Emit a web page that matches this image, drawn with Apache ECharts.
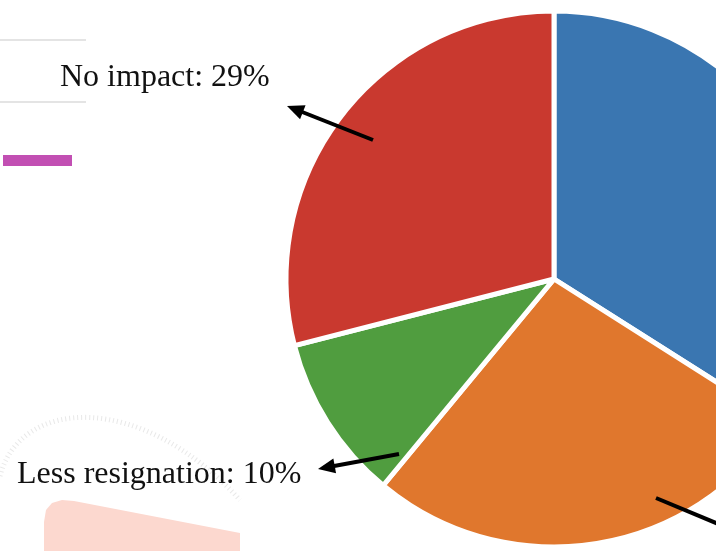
<!DOCTYPE html>
<html>
<head>
<meta charset="utf-8">
<style>
  html, body { margin: 0; padding: 0; background: #ffffff; }
  #chart { width: 716px; height: 551px; }
</style>
<script src="https://cdn.jsdelivr.net/npm/echarts@6/dist/echarts.min.js"></script>
</head>
<body>
<div id="chart"></div>
<script>
// Share of respondents by effect on resignation (percent), clockwise from 12 o'clock
const categories = ['More resignation', 'Slightly more resignation', 'Less resignation', 'No impact'];
const shares = [34, 27, 10, 29];
const sliceColors = ['#3a76b1', '#e0772d', '#509d3f', '#c9392f'];

// Slices that carry a visible callout text
const calloutSlices = [3, 2];

const chart = echarts.init(document.getElementById('chart'), null, { renderer: 'canvas' });

const serifFont = '"Liberation Serif", "Times New Roman", serif';

function calloutText(i) {
  return categories[i] + ': ' + shares[i] + '%';
}

// Straight arrow with a filled triangular head at (x2, y2)
function arrow(x1, y1, x2, y2, withHead) {
  const dx = x2 - x1, dy = y2 - y1;
  const len = Math.sqrt(dx * dx + dy * dy);
  const ux = dx / len, uy = dy / len;
  const headLen = 17, headHalf = 7.5;
  const bx = x2 - ux * headLen, by = y2 - uy * headLen;
  const parts = [{
    type: 'line',
    shape: { x1: x1, y1: y1, x2: withHead ? bx + ux * 2 : x2, y2: withHead ? by + uy * 2 : y2 },
    style: { stroke: '#000', lineWidth: 4 },
    z: 10
  }];
  if (withHead) {
    parts.push({
      type: 'polygon',
      shape: { points: [[x2, y2], [bx - uy * headHalf, by + ux * headHalf], [bx + uy * headHalf, by - ux * headHalf]] },
      style: { fill: '#000' },
      z: 10
    });
  }
  return parts;
}

const graphics = [
  // faded legend remnants at the left edge
  { type: 'line', shape: { x1: 0, y1: 40, x2: 86, y2: 40 }, style: { stroke: '#e4e4e4', lineWidth: 2 }, z: 1 },
  { type: 'line', shape: { x1: 0, y1: 102, x2: 86, y2: 102 }, style: { stroke: '#e4e4e4', lineWidth: 2 }, z: 1 },
  { type: 'rect', shape: { x: 3, y: 155, width: 69, height: 11 }, style: { fill: '#c24fb3' }, z: 1 },
  // pale shape in the lower-left corner
  {
    type: 'polygon',
    shape: {
      points: [[44, 551], [44, 522], [46, 510], [52, 503], [62, 500], [74, 501], [240, 533], [240, 551]]
    },
    style: { fill: '#fcd8cf' }, z: 1
  },
  {
    type: 'bezierCurve',
    shape: { x1: 0, y1: 476, cpx1: 20, cpy1: 398, cpx2: 140, cpy2: 390, x2: 240, y2: 500 },
    style: { stroke: '#d8d8d8', lineWidth: 5, lineDash: [1, 3], fill: null, opacity: 0.6 }, z: 1
  },
  // callout texts
  {
    type: 'text', x: 60, y: 62, z: 11,
    style: { text: calloutText(calloutSlices[0]), font: '32px ' + serifFont, fill: '#111' }
  },
  {
    type: 'text', x: 17, y: 459, z: 11,
    style: { text: calloutText(calloutSlices[1]), font: '32px ' + serifFont, fill: '#111' }
  }
].concat(
  arrow(373, 140, 287, 106, true),
  arrow(399, 454, 318, 469, true),
  arrow(656, 498, 740, 533, false)
);

chart.setOption({
  animation: false,
  backgroundColor: '#ffffff',
  series: [{
    type: 'pie',
    center: [554, 279],
    radius: 268,
    startAngle: 90,
    clockwise: true,
    label: { show: false },
    labelLine: { show: false },
    emphasis: { disabled: true },
    itemStyle: { borderColor: '#ffffff', borderWidth: 5 },
    data: categories.map((name, i) => ({
      name: name,
      value: shares[i],
      itemStyle: { color: sliceColors[i] }
    }))
  }],
  graphic: graphics
});
</script>
</body>
</html>
